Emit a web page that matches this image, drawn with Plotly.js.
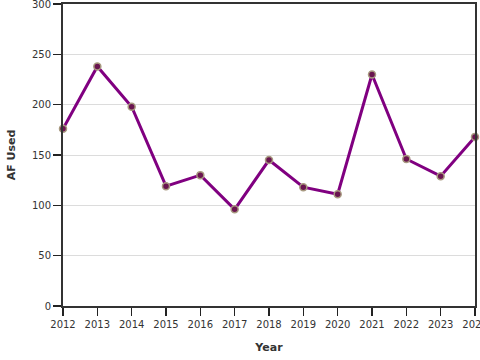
<!DOCTYPE html>
<html>
<head>
<meta charset="utf-8">
<script src="https://cdn.plot.ly/plotly-3.0.1.min.js"></script>
<style>html,body{margin:0;padding:0;background:#fff;}#chart{width:480px;height:360px;}</style>
</head>
<body>
<div id="chart"></div>
<script>
const years = [2012, 2013, 2014, 2015, 2016, 2017, 2018, 2019, 2020, 2021, 2022, 2023, 2024];
const afUsed = [176, 238, 198, 119, 130, 96, 145, 118, 111, 230, 146, 129, 168];
const yTicks = [0, 50, 100, 150, 200, 250, 300];

const trace = {
  x: years,
  y: afUsed,
  type: 'scatter',
  mode: 'lines+markers',
  line: {color: '#800080', width: 3},
  marker: {size: 7, color: '#6a1550', line: {color: '#a89a80', width: 1.5}},
  cliponaxis: false,
  hoverinfo: 'x+y'
};

const layout = {
  width: 480,
  height: 360,
  margin: {l: 63, r: 5, t: 4, b: 54},
  paper_bgcolor: '#fff',
  plot_bgcolor: '#fff',
  font: {family: 'DejaVu Sans, sans-serif', size: 10, color: '#333'},
  showlegend: false,
  xaxis: {
    range: [2012, 2024],
    tickvals: years,
    ticktext: years.map(String),
    ticks: 'outside',
    ticklen: 8,
    tickwidth: 1.5,
    tickcolor: '#222',
    ticklabeloverflow: 'allow',
    showgrid: false,
    zeroline: false,
    showline: true,
    linecolor: '#333',
    linewidth: 2,
    mirror: true,
    title: {text: '<b>Year</b>', font: {size: 11, color: '#333'}, standoff: 14}
  },
  yaxis: {
    range: [0, 300],
    tickvals: yTicks,
    ticks: 'outside',
    ticklen: 8,
    tickwidth: 1.5,
    tickcolor: '#222',
    ticklabeloverflow: 'allow',
    showgrid: true,
    gridcolor: '#dcdcdc',
    gridwidth: 1,
    zeroline: false,
    showline: true,
    linecolor: '#333',
    linewidth: 2,
    mirror: true,
    title: {text: '<b>AF Used</b>', font: {size: 11, color: '#333'}, standoff: 14}
  }
};

Plotly.newPlot('chart', [trace], layout, {displayModeBar: false, staticPlot: true});
</script>
</body>
</html>
